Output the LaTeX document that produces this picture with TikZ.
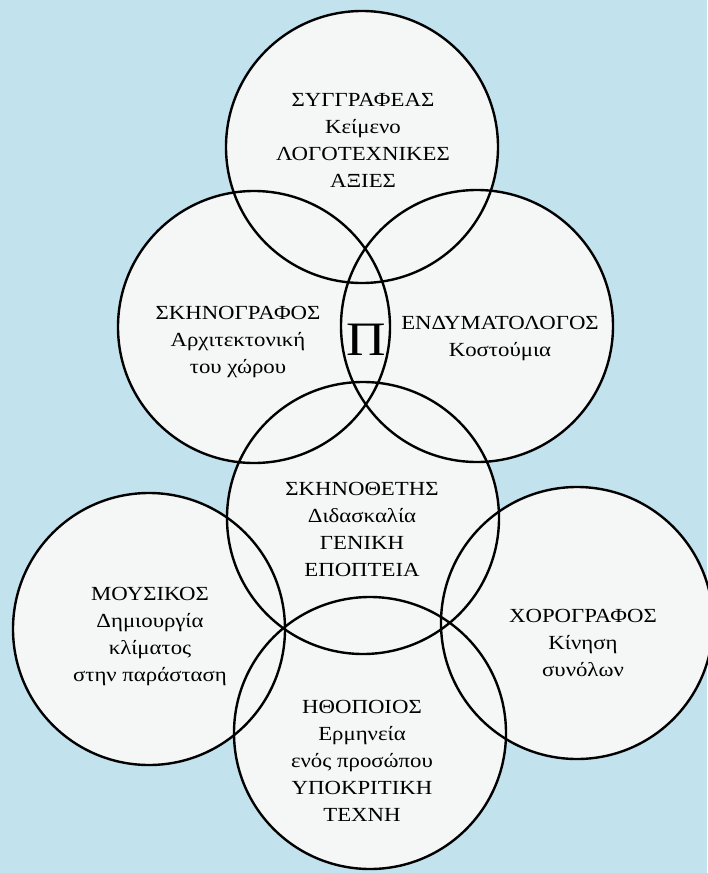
\documentclass[tikz,border=0pt]{standalone}
\usepackage{fontspec}
\setmainfont[FakeStretch=1.14]{Liberation Serif}
\usetikzlibrary{backgrounds}

\definecolor{sky}{HTML}{C2E2EE}
\definecolor{paper}{HTML}{F5F6F6}

\begin{document}
\begin{tikzpicture}[x=1pt,y=-1pt,
    ring/.style={circle,draw,line width=2.4pt,minimum size=272pt,inner sep=0pt},
    role/.style={align=center,font=\fontsize{20}{27}\selectfont}]
    \useasboundingbox (0,0) rectangle (707,873);
    % the seven circles
    \node[ring] (author)   at (362,147) {};
    \node[ring] (designer) at (254,327) {};
    \node[ring] (costume)  at (477,326) {};
    \node[ring] (director) at (363,518) {};
    \node[ring] (musician) at (149,629) {};
    \node[ring] (choreo)   at (577,623) {};
    \node[ring] (actor)    at (370,733) {};
    \begin{scope}[on background layer]
        \fill[sky] (0,0) rectangle (707,873);
        \foreach \n in {author,designer,costume,director,musician,choreo,actor}
            \fill[paper] (\n.center) circle (136pt);
    \end{scope}
    % texts
    \node[role] (t_author) at (363,140) {ΣΥΓΓΡΑΦΕΑΣ\\Κείμενο\\ΛΟΓΟΤΕΧΝΙΚΕΣ\\ΑΞΙΕΣ};
    \node[role] (t_designer) at (238,342) {ΣΚΗΝΟΓΡΑΦΟΣ\\Αρχιτεκτονική\\του χώρου};
    \node[font=\fontsize{48}{48}\selectfont] (pi) at (366,340) {Π};
    \node[role] (t_costume) at (500,339) {ΕΝΔΥΜΑΤΟΛΟΓΟΣ\\Κοστούμια};
    \node[role] (t_director) at (362,529) {ΣΚΗΝΟΘΕΤΗΣ\\Διδασκαλία\\ΓΕΝΙΚΗ\\ΕΠΟΠΤΕΙΑ};
    \node[role] (t_musician) at (150,636) {ΜΟΥΣΙΚΟΣ\\Δημιουργία\\κλίματος\\στην παράσταση};
    \node[role] (t_choreo) at (583,643) {ΧΟΡΟΓΡΑΦΟΣ\\Κίνηση\\συνόλων};
    \node[role] (t_actor) at (362,761) {ΗΘΟΠΟΙΟΣ\\Ερμηνεία\\ενός προσώπου\\ΥΠΟΚΡΙΤΙΚΗ\\ΤΕΧΝΗ};
\end{tikzpicture}
\end{document}
